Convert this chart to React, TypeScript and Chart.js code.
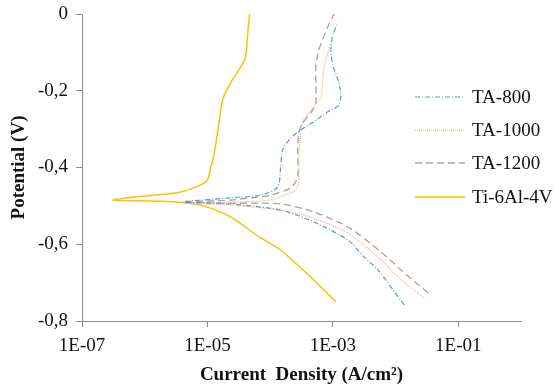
import React, { useEffect, useRef } from "react";
import { Chart, registerables } from "chart.js";

Chart.register(...registerables);

// Current density (A/cm²) and potential (V) for each sample
const ta800Current = [1.37e-2, 5.25e-3, 3.13e-3, 1.74e-3, 4.97e-4, 1.47e-4, 2.33e-5, 4.1e-6, 2.33e-5, 7.0e-5, 1.32e-4, 1.47e-4, 1.58e-4, 2.13e-4, 3.08e-4, 4.97e-4, 8.3e-4, 1.2e-3, 1.34e-3, 1.25e-3, 1.0e-3, 9.3e-4, 1.0e-3, 1.2e-3];
const ta800Potential = [-0.758, -0.667, -0.633, -0.589, -0.542, -0.511, -0.495, -0.49, -0.479, -0.472, -0.451, -0.399, -0.354, -0.323, -0.302, -0.281, -0.255, -0.24, -0.216, -0.18, -0.133, -0.094, -0.055, -0.023];

const ta1000Current = [2.86e-2, 1.22e-2, 5.86e-3, 1.74e-3, 4.97e-4, 1.47e-4, 2.33e-5, 4.1e-6, 2.33e-5, 1.02e-4, 2.13e-4, 2.56e-4, 2.86e-4, 2.86e-4, 3.08e-4, 3.4e-4, 4.97e-4, 6.43e-4, 7.2e-4, 8.6e-4, 8.95e-4];
const ta1000Potential = [-0.74, -0.693, -0.641, -0.571, -0.532, -0.511, -0.498, -0.493, -0.49, -0.485, -0.466, -0.459, -0.44, -0.38, -0.307, -0.276, -0.242, -0.216, -0.138, -0.094, -0.081];

const ta1200Current = [3.3e-2, 1.22e-2, 5.86e-3, 1.74e-3, 4.97e-4, 1.47e-4, 2.33e-5, 4.1e-6, 2.33e-5, 4.9e-5, 1.02e-4, 2.13e-4, 2.75e-4, 2.75e-4, 2.86e-4, 3.3e-4, 4.45e-4, 5.35e-4, 5.35e-4, 5.35e-4, 5.97e-4, 8.3e-4, 1.04e-3];
const ta1200Potential = [-0.727, -0.667, -0.62, -0.555, -0.516, -0.495, -0.493, -0.49, -0.485, -0.479, -0.472, -0.453, -0.425, -0.354, -0.31, -0.284, -0.258, -0.232, -0.18, -0.138, -0.094, -0.034, 0.0];

const tiCurrent = [1.12e-3, 4.97e-4, 1.47e-4, 7.0e-5, 3.1e-5, 1.8e-5, 7.7e-6, 3.3e-6, 1.22e-6, 3.1e-7, 6.5e-7, 3.3e-6, 7.7e-6, 1.0e-5, 1.1e-5, 1.25e-5, 1.5e-5, 1.74e-5, 2.33e-5, 3.4e-5, 4.06e-5, 4.4e-5, 4.7e-5];
const tiPotential = [-0.75, -0.693, -0.615, -0.583, -0.542, -0.519, -0.498, -0.49, -0.487, -0.485, -0.477, -0.466, -0.446, -0.433, -0.407, -0.373, -0.294, -0.224, -0.18, -0.138, -0.112, -0.05, 0.0];

const seriesNames = ["TA-800", "TA-1000", "TA-1200", "Ti-6Al-4V"];
const xTickValues = [1e-7, 1e-5, 1e-3, 1e-1];
const xTickLabels = ["1E-07", "1E-05", "1E-03", "1E-01"];

const FONT = "'Liberation Serif', 'Times New Roman', serif";

function pts(xs: number[], ys: number[]) {
  return xs.map((x, i) => ({ x, y: ys[i] }));
}

const legendPlugin = {
  id: "customLegend",
  afterDraw(chart: any) {
    const ctx = chart.ctx;
    const x0 = 415;
    const x1 = 465;
    const tx = 472;
    const ys = [97, 130, 163, 197];
    ctx.save();
    chart.data.datasets.forEach((ds: any, i: number) => {
      const y = ys[i];
      ctx.beginPath();
      ctx.strokeStyle = ds.borderColor;
      ctx.lineWidth = ds.borderWidth;
      ctx.setLineDash(ds.borderDash || []);
      ctx.moveTo(x0, y);
      ctx.lineTo(x1, y);
      ctx.stroke();
      ctx.setLineDash([]);
      ctx.fillStyle = "#111";
      ctx.font = `19px ${FONT}`;
      ctx.textBaseline = "middle";
      ctx.textAlign = "left";
      ctx.fillText(ds.label, tx, y + 1);
    });
    ctx.restore();
  },
};

export default function App() {
  const ref = useRef<HTMLCanvasElement | null>(null);
  useEffect(() => {
    if (!ref.current) return;
    const common = { showLine: true, pointRadius: 0, tension: 0.25, fill: false };
    const chart = new Chart(ref.current, {
      type: "scatter",
      data: {
        datasets: [
          { ...common, label: seriesNames[0], data: pts(ta800Current, ta800Potential), borderColor: "#5B9BD5", borderWidth: 1.2, borderDash: [5, 2, 1, 2] },
          { ...common, label: seriesNames[1], data: pts(ta1000Current, ta1000Potential), borderColor: "#F4B183", borderWidth: 1.2, borderDash: [1, 1] },
          { ...common, label: seriesNames[2], data: pts(ta1200Current, ta1200Potential), borderColor: "#A5A5A5", borderWidth: 1.3, borderDash: [7, 4] },
          { ...common, label: seriesNames[3], data: pts(tiCurrent, tiPotential), borderColor: "#FFC000", borderWidth: 1.5, borderDash: [] },
        ] as any,
      },
      options: {
        animation: false,
        responsive: false,
        maintainAspectRatio: false,
        layout: { padding: { top: 14, right: 36, left: 0, bottom: 0 } },
        plugins: { legend: { display: false }, tooltip: { enabled: false } },
        scales: {
          x: {
            type: "logarithmic",
            min: 1e-7,
            max: 1,
            afterBuildTicks: (axis: any) => {
              axis.ticks = xTickValues.map((v) => ({ value: v }));
            },
            ticks: {
              autoSkip: false,
              maxRotation: 0,
              color: "#111",
              font: { family: FONT, size: 19 },
              padding: 8,
              callback: (v: any) => {
                const i = xTickValues.indexOf(Number(v));
                return i >= 0 ? xTickLabels[i] : "";
              },
            },
            grid: { drawOnChartArea: false, drawTicks: true, tickLength: 6, color: "#8C8C8C" },
            border: { display: true, color: "#8C8C8C", width: 1 },
            title: {
              display: true,
              text: "Current  Density (A/cm²)",
              color: "#111",
              font: { family: FONT, size: 19, weight: "bold" },
              padding: { top: 2, bottom: 2 },
            },
            afterFit: (scale: any) => {
              scale.height = 67;
              scale.paddingLeft = 0;
              scale.paddingRight = 0;
            },
          },
          y: {
            type: "linear",
            min: -0.8,
            max: 0,
            ticks: {
              stepSize: 0.2,
              color: "#111",
              font: { family: FONT, size: 19 },
              padding: 8,
              callback: (v: any) => {
                const n = Number(v);
                if (Math.abs(n) < 1e-9) return "0";
                return n.toFixed(1).replace(".", ",");
              },
            },
            grid: { drawOnChartArea: false, drawTicks: true, tickLength: 6, color: "#8C8C8C" },
            border: { display: true, color: "#8C8C8C", width: 1 },
            title: {
              display: true,
              text: "Potential (V)",
              color: "#111",
              font: { family: FONT, size: 19, weight: "bold" },
              padding: { top: 8, bottom: 2 },
            },
            afterFit: (scale: any) => {
              scale.width = 82;
              scale.paddingTop = 0;
              scale.paddingBottom = 0;
            },
          },
        },
      } as any,
      plugins: [legendPlugin],
    });
    return () => chart.destroy();
  }, []);
  return (
    <div style={{ position: "fixed", left: 0, top: 0, width: 557, height: 388, background: "#fff" }}>
      <canvas ref={ref} width={557} height={388} style={{ width: 557, height: 388 }} />
    </div>
  );
}
